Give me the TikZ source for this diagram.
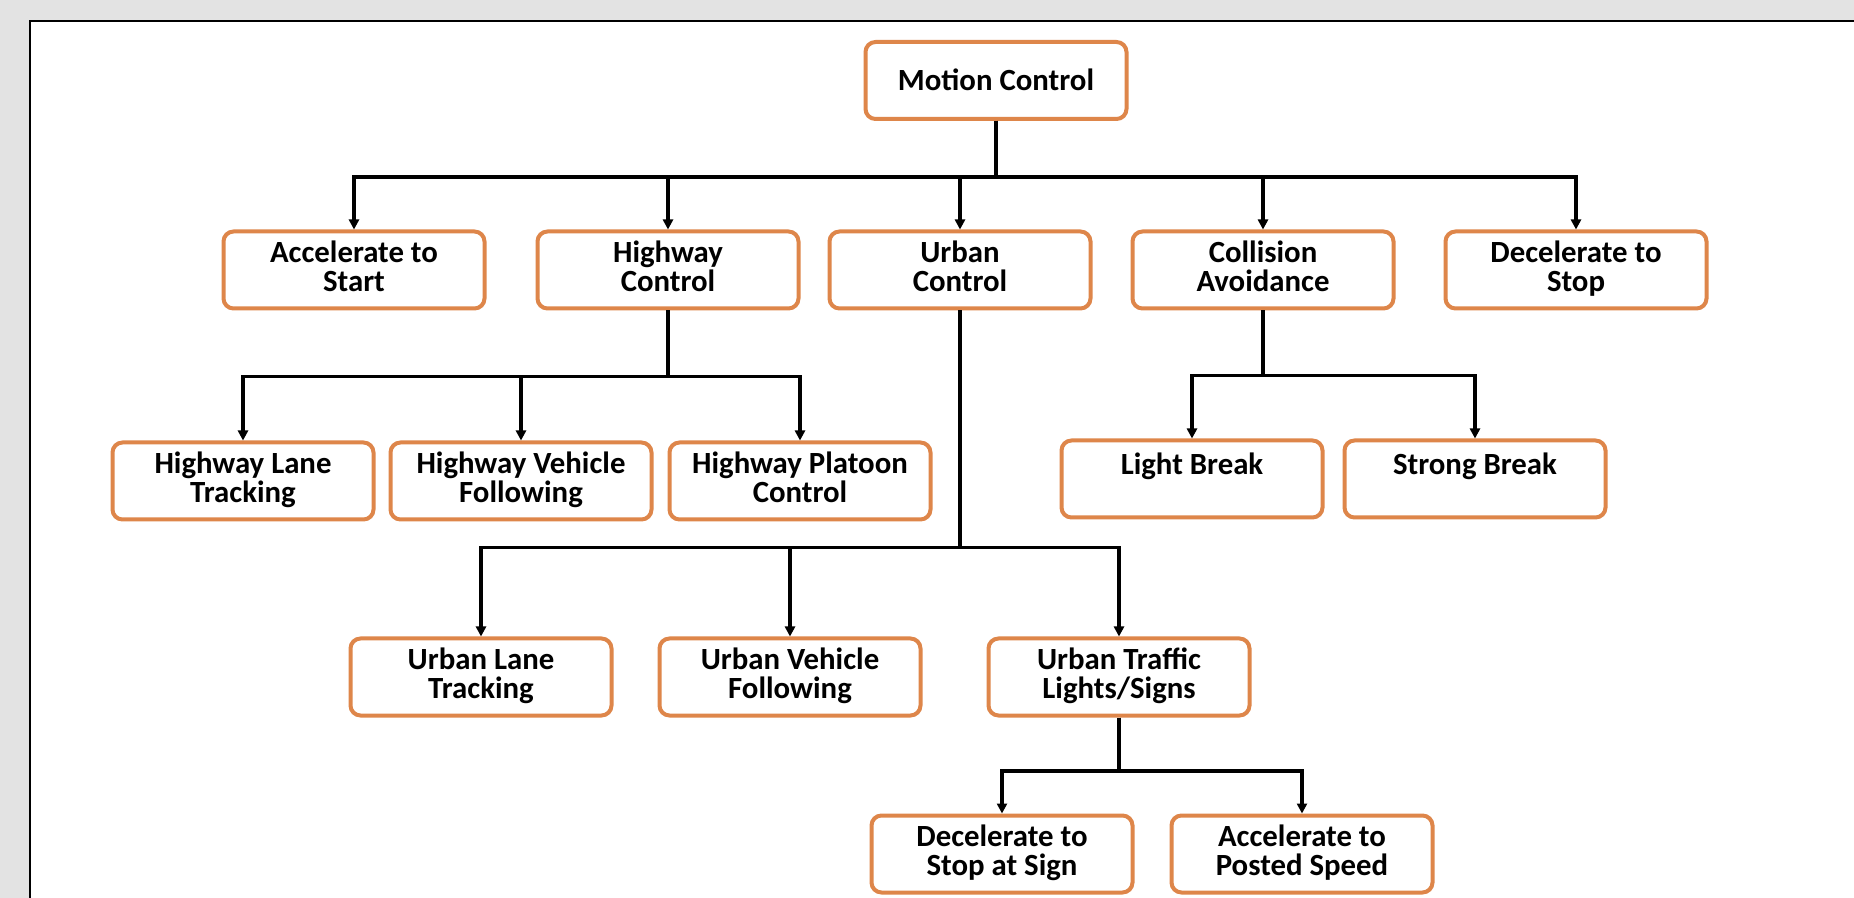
\documentclass[tikz,border=0pt]{standalone}
\usepackage{fontspec}
\setmainfont{Carlito}
\usetikzlibrary{arrows.meta}
\definecolor{boxorange}{RGB}{222,134,74}
\definecolor{pagegray}{RGB}{227,227,227}
% two centred lines, the first one carrying the baseline
\newcommand{\boxlines}[2]{\vtop{\halign{\hfil##\hfil\cr #1\cr #2\cr}}}
\begin{document}
\begin{tikzpicture}[x=0.5pt,y=-0.5pt,
  box/.style={draw=boxorange,line width=2pt,rounded corners=5pt,fill=white,
    minimum width=130.5pt,minimum height=38.5pt,inner sep=0pt,
    text height=8.5pt,text depth=16.3pt,
    font=\bfseries\fontsize{15.4}{14.6}\selectfont},
  onebox/.style={box,text height=8.5pt,text depth=13pt},
  rootbox/.style={box,text height=12pt,text depth=1.5pt},
  link/.style={line width=1.6pt,-{Triangle[length=5pt,width=5pt]}},
  frame/.style={line width=1pt}]
% page and panel
\useasboundingbox (0,0) rectangle (1854,898);
\fill[pagegray] (0,0) rectangle (1854,898);
\fill[white] (30,21) rectangle (1854,898);
\draw[frame] (30,898) -- (30,21) -- (1854,21);

% root
\node[rootbox] (mc) at (996,80.5) {Motion Control};

% first level
\node[box] (acc) at (354,270) {\boxlines{Accelerate to}{Start}};
\node[box] (hwc) at (668,270) {\boxlines{Highway}{Control}};
\node[box] (urc) at (960,270) {\boxlines{Urban}{Control}};
\node[box] (col) at (1263,270) {\boxlines{Collision}{Avoidance}};
\node[box] (dec) at (1576,270) {\boxlines{Decelerate to}{Stop}};

% highway branch
\node[box] (hlt) at (243,481) {\boxlines{Highway Lane}{Tracking}};
\node[box] (hvf) at (521,481) {\boxlines{Highway Vehicle}{Following}};
\node[box] (hpc) at (800,481) {\boxlines{Highway Platoon}{Control}};

% collision branch
\node[onebox] (lb) at (1192,479) {Light Break};
\node[onebox] (sb) at (1475,479) {Strong Break};

% urban branch
\node[box] (ult) at (481,677) {\boxlines{Urban Lane}{Tracking}};
\node[box] (uvf) at (790,677) {\boxlines{Urban Vehicle}{Following}};
\node[box] (uts) at (1119,677) {\boxlines{Urban Traffic}{Lights/Signs}};

% traffic lights branch
\node[box] (dss) at (1002,854) {\boxlines{Decelerate to}{Stop at Sign}};
\node[box] (aps) at (1302,854) {\boxlines{Accelerate to}{Posted Speed}};

% connectors
\foreach \c in {acc,hwc,urc,col,dec}
  \draw[link] (mc.south) -- ++(0,56) -| (\c.north);
\foreach \c in {hlt,hvf,hpc}
  \draw[link] (hwc.south) -- ++(0,66) -| (\c.north);
\foreach \c in {lb,sb}
  \draw[link] (col.south) -- ++(0,65) -| (\c.north);
\foreach \c in {ult,uvf,uts}
  \draw[link] (urc.south) -- ++(0,237) -| (\c.north);
\foreach \c in {dss,aps}
  \draw[link] (uts.south) -- ++(0,53.5) -| (\c.north);
\end{tikzpicture}
\end{document}
